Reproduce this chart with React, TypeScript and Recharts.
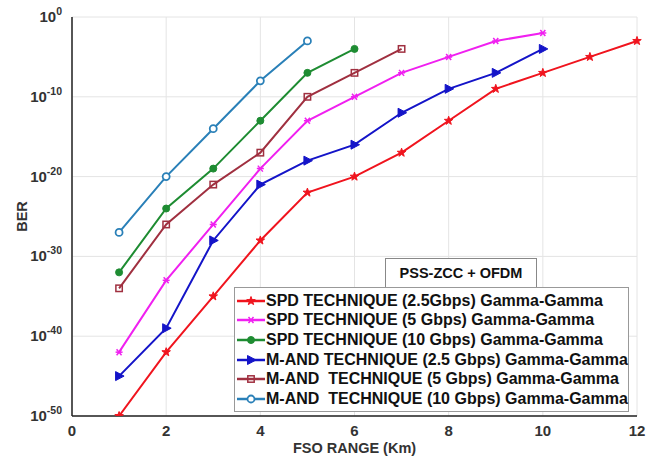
import React from "react";
import { LineChart, Line, XAxis, YAxis, CartesianGrid } from "recharts";

const xValues = [1, 2, 3, 4, 5, 6, 7, 8, 9, 10, 11, 12];
const spd25Exp = [-50, -42, -35, -28, -22, -20, -17, -13, -9, -7, -5, -3];
const spd5Exp = [-42, -33, -26, -19, -13, -10, -7, -5, -3, -2];
const spd10Exp = [-32, -24, -19, -13, -7, -4];
const mand25Exp = [-45, -39, -28, -21, -18, -16, -12, -9, -7, -4];
const mand5Exp = [-34, -26, -21, -17, -10, -7, -4];
const mand10Exp = [-27, -20, -14, -8, -3];

const xTicks = [0, 2, 4, 6, 8, 10, 12];
const yTicks = [1e-50, 1e-40, 1e-30, 1e-20, 1e-10, 1];

const seriesNames = [
  "SPD TECHNIQUE (2.5Gbps) Gamma-Gamma",
  "SPD TECHNIQUE (5 Gbps) Gamma-Gamma",
  "SPD TECHNIQUE (10 Gbps) Gamma-Gamma",
  "M-AND TECHNIQUE (2.5 Gbps) Gamma-Gamma",
  "M-AND  TECHNIQUE (5 Gbps) Gamma-Gamma",
  "M-AND  TECHNIQUE (10 Gbps) Gamma-Gamma",
];
const keys = ["spd25", "spd5", "spd10", "mand25", "mand5", "mand10"];
const exps = [spd25Exp, spd5Exp, spd10Exp, mand25Exp, mand5Exp, mand10Exp];
const colors = ["#f0141e", "#f020f0", "#1e8c32", "#1414c8", "#a03040", "#2a80b8"];
const shapes = ["star", "asterisk", "circleFilled", "triangle", "square", "circleOpen"];

const data = xValues.map((x, i) => {
  const row: any = { x };
  keys.forEach((k, j) => {
    if (i < exps[j].length) row[k] = Math.pow(10, exps[j][i]);
  });
  return row;
});

const FONT = "'Liberation Sans', Arial, sans-serif";

function Marker({ shape, color, cx, cy }: any) {
  if (cx == null || cy == null || isNaN(cx) || isNaN(cy)) return null;
  switch (shape) {
    case "star": {
      const pts: string[] = [];
      for (let i = 0; i < 10; i++) {
        const r = i % 2 === 0 ? 4.5 : 1.8;
        const a = -Math.PI / 2 + (i * Math.PI) / 5;
        pts.push(`${cx + r * Math.cos(a)},${cy + r * Math.sin(a)}`);
      }
      return <polygon points={pts.join(" ")} fill={color} stroke={color} strokeWidth={1} />;
    }
    case "asterisk":
      return (
        <g stroke={color} strokeWidth={1.5}>
          <line x1={cx - 3.5} y1={cy} x2={cx + 3.5} y2={cy} />
          <line x1={cx - 2.5} y1={cy - 3} x2={cx + 2.5} y2={cy + 3} />
          <line x1={cx - 2.5} y1={cy + 3} x2={cx + 2.5} y2={cy - 3} />
        </g>
      );
    case "circleFilled":
      return <circle cx={cx} cy={cy} r={3.5} fill={color} stroke={color} />;
    case "triangle":
      return (
        <polygon
          points={`${cx - 3.5},${cy - 4.5} ${cx + 5},${cy} ${cx - 3.5},${cy + 4.5}`}
          fill={color}
          stroke={color}
          strokeWidth={1}
        />
      );
    case "square":
      return <rect x={cx - 3.2} y={cy - 3.2} width={6.4} height={6.4} fill="none" stroke={color} strokeWidth={1.5} />;
    case "circleOpen":
      return <circle cx={cx} cy={cy} r={3.5} fill="#fff" stroke={color} strokeWidth={1.8} />;
  }
  return null;
}

function YTick(props: any) {
  const { x, y, payload } = props;
  const e = Math.round(Math.log10(payload.value));
  return (
    <text x={x - 2} y={y + 5} textAnchor="end" fontFamily={FONT} fontWeight="bold" fontSize={15} fill="#333">
      <tspan>10</tspan>
      <tspan dy={-7} fontSize={10.5}>{e}</tspan>
    </text>
  );
}

function XTick(props: any) {
  const { x, y, payload } = props;
  return (
    <text x={x} y={y + 12} textAnchor="middle" fontFamily={FONT} fontWeight="bold" fontSize={15} fill="#333">
      {payload.value}
    </text>
  );
}

function LegendBox() {
  return (
    <div style={{ position: "absolute", left: 234, top: 258, width: 400, height: 160, fontFamily: FONT }}>
      <div
        style={{
          position: "absolute",
          left: 151,
          top: 0,
          width: 152,
          height: 30,
          border: "1px solid #888",
          background: "#fff",
          boxSizing: "border-box",
          fontWeight: "bold",
          fontSize: 14.5,
          lineHeight: "29px",
          textAlign: "center",
          color: "#111",
        }}
      >
        PSS-ZCC + OFDM
      </div>
      <div
        style={{
          position: "absolute",
          left: 0,
          top: 29,
          width: 395,
          height: 125,
          border: "1px solid #999",
          background: "#fff",
          boxSizing: "border-box",
          paddingTop: 3,
        }}
      >
        {seriesNames.map((n, i) => (
          <div key={n} style={{ display: "flex", alignItems: "center", height: 19.6 }}>
            <svg width={31} height={14} style={{ flex: "none" }}>
              <line x1={2} y1={7} x2={30} y2={7} stroke={colors[i]} strokeWidth={2.5} />
              <Marker shape={shapes[i]} color={colors[i]} cx={16} cy={7} />
            </svg>
            <span style={{ fontWeight: "bold", fontSize: 16, color: "#111", whiteSpace: "pre", letterSpacing: 0 }}>{n}</span>
          </div>
        ))}
      </div>
    </div>
  );
}

export default function App() {
  return (
    <div style={{ position: "absolute", left: 0, top: 0, width: 651, height: 466, background: "#fff" }}>
      <LineChart width={651} height={466} data={data} margin={{ top: 17, right: 14, left: 0, bottom: 0 }}>
        <CartesianGrid stroke="#e4e4e4" strokeWidth={1} />
        <XAxis
          dataKey="x"
          type="number"
          domain={[0, 12]}
          ticks={xTicks}
          tick={<XTick />}
          tickLine={false}
          axisLine={{ stroke: "#222", strokeWidth: 1.5 }}
          height={50}
          label={{
            value: "FSO RANGE (Km)",
            position: "insideBottom",
            offset: 13,
            style: { fontFamily: FONT, fontWeight: "bold", fontSize: 14.5, fill: "#333" },
          }}
        />
        <YAxis
          type="number"
          scale="log"
          domain={[1e-50, 1]}
          allowDataOverflow
          ticks={yTicks}
          tick={<YTick />}
          tickLine={false}
          axisLine={{ stroke: "#222", strokeWidth: 1.5 }}
          width={72}
          label={{
            value: "BER",
            angle: -90,
            position: "insideLeft",
            offset: 22,
            style: { fontFamily: FONT, fontWeight: "bold", fontSize: 14.5, fill: "#333", textAnchor: "middle" },
          }}
        />
        <XAxis xAxisId="top" orientation="top" dataKey="x" type="number" domain={[0, 12]} ticks={xTicks} tick={false} tickLine={false} axisLine={{ stroke: "#444" }} height={0} />
        <YAxis yAxisId="right" orientation="right" type="number" scale="log" domain={[1e-50, 1]} ticks={yTicks} tick={false} tickLine={false} axisLine={{ stroke: "#888" }} width={0} />
        {keys.map((k, i) => (
          <Line
            key={k}
            dataKey={k}
            name={seriesNames[i]}
            stroke={colors[i]}
            strokeWidth={2}
            isAnimationActive={false}
            connectNulls={false}
            dot={(p: any) => <Marker key={`${k}-${p.index}`} shape={shapes[i]} color={colors[i]} cx={p.cx} cy={p.cy} />}
            activeDot={false}
            legendType="none"
          />
        ))}
      </LineChart>
      <LegendBox />
    </div>
  );
}
